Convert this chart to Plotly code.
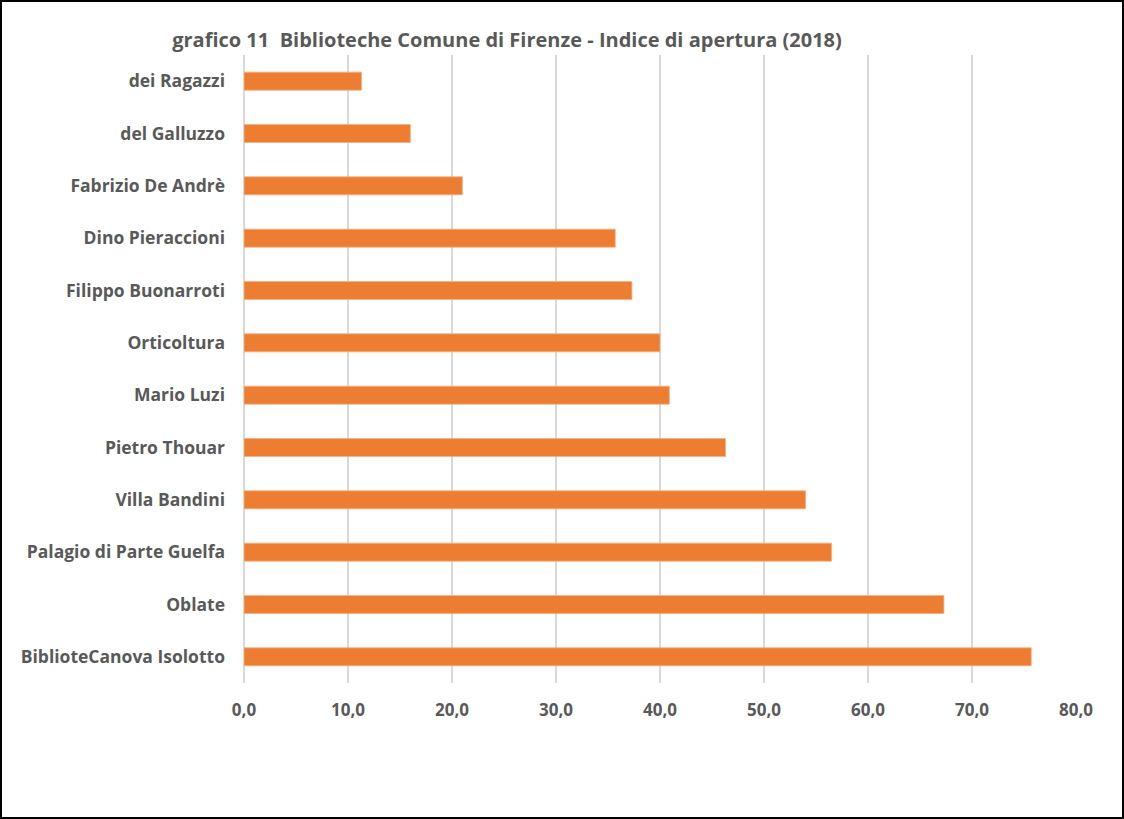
import plotly.graph_objects as go

categories = [
    "dei Ragazzi",
    "del Galluzzo",
    "Fabrizio De Andrè",
    "Dino Pieraccioni",
    "Filippo Buonarroti",
    "Orticoltura",
    "Mario Luzi",
    "Pietro Thouar",
    "Villa Bandini",
    "Palagio di Parte Guelfa",
    "Oblate",
    "BiblioteCanova Isolotto",
]
values = [11.3, 16.0, 21.0, 35.7, 37.3, 40.0, 40.9, 46.3, 54.0, 56.5, 67.3, 75.7]
x_ticks = [0, 10, 20, 30, 40, 50, 60, 70, 80]

W, H = 1124, 819
L, R, T, B = 244, 48, 55, 136
pw = W - L - R
ph = H - T - B

FONT = "Open Sans"
GRAY = "#595959"

fig = go.Figure(
    go.Bar(
        x=values,
        y=categories,
        orientation="h",
        marker=dict(color="#ED7D31", line=dict(color="#F4B183", width=0.8)),
    )
)

fig.update_layout(
    width=W,
    height=H,
    margin=dict(l=L, r=R, t=T, b=B, autoexpand=False),
    paper_bgcolor="white",
    plot_bgcolor="white",
    separators=",.",
    bargap=0.655,
    showlegend=False,
    font=dict(family=FONT, color=GRAY),
    title=dict(
        text="<b>grafico 11  Biblioteche Comune di Firenze - Indice di apertura (2018)</b>",
        font=dict(family=FONT, size=20, color=GRAY),
        xref="paper",
        x=(507 - L) / pw,
        xanchor="center",
        yref="container",
        y=1 - 40 / H,
        yanchor="middle",
    ),
    xaxis=dict(
        range=[0, 80],
        tickvals=x_ticks,
        tickformat=".1f",
        showgrid=True,
        gridcolor="#d9d9d9",
        gridwidth=1.5,
        zeroline=True,
        zerolinecolor="#d9d9d9",
        zerolinewidth=1.5,
        showline=False,
        ticks="",
        ticklabelstandoff=15,
        tickfont=dict(family=FONT, size=17, color=GRAY, weight="bold"),
        fixedrange=True,
    ),
    yaxis=dict(
        autorange="reversed",
        showgrid=False,
        zeroline=False,
        showline=False,
        ticks="",
        ticklabelstandoff=18,
        tickfont=dict(family=FONT, size=17.5, color=GRAY, weight="bold"),
        fixedrange=True,
    ),
    shapes=[
        dict(
            type="rect",
            xref="paper",
            yref="paper",
            x0=(1 - L) / pw,
            x1=(W - 1 - L) / pw,
            y0=-(H - 1 - T - ph) / ph,
            y1=1 + (T - 1) / ph,
            line=dict(color="black", width=2),
            fillcolor="rgba(0,0,0,0)",
            layer="above",
        )
    ],
)

fig.write_html(
    "out.html",
    config={"displayModeBar": False},
    post_script="document.body.style.margin='0';document.body.style.overflow='hidden';",
)
